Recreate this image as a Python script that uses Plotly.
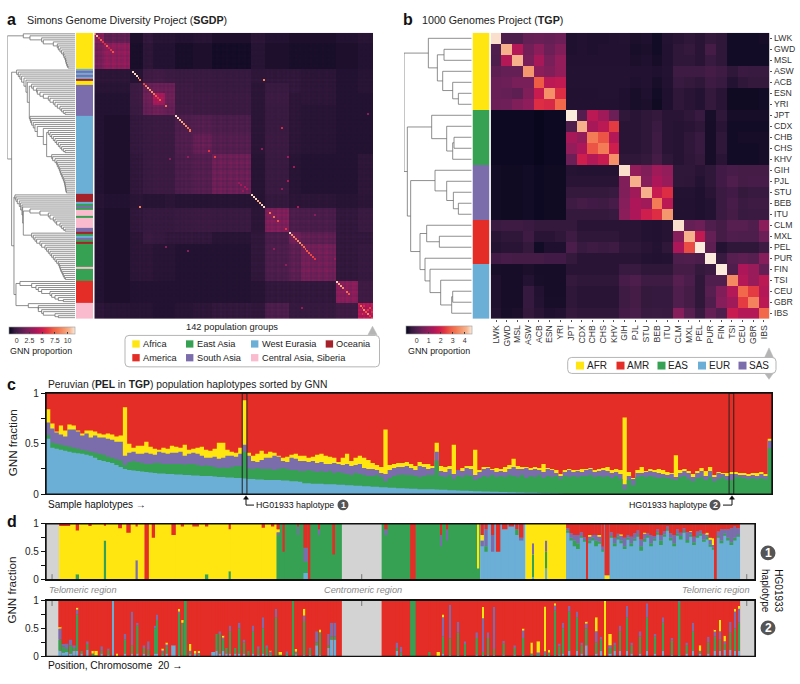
import plotly.graph_objects as go

W, H = 800, 684
FONT = "Liberation Sans"
C_AFR, C_AMR, C_EAS, C_EUR, C_SAS = "#FFE611", "#E42D26", "#37A153", "#6BAED6", "#7B6DAC"
C_OCE, C_CAS, C_NA = "#A5222B", "#FBBBCE", "#D3D3D3"
ROCKET = [[0, "#03051A"], [.083, "#35193E"], [.167, "#511E4E"], [.25, "#701F57"], [.333, "#8E1D5B"],
          [.417, "#AD1759"], [.5, "#CB1B4F"], [.583, "#E13342"], [.667, "#EE5A45"], [.75, "#F37651"],
          [.833, "#F5966D"], [.917, "#F6B48F"], [1, "#FAEBDD"]]

# ---------- panel b data ----------
tgp_labels = ["LWK","GWD","MSL","ASW","ACB","ESN","YRI","JPT","CDX","CHB","CHS","KHV","GIH","PJL","STU","BEB","ITU",
              "CLM","MXL","PEL","PUR","FIN","TSI","CEU","GBR","IBS"]
tgp_groups = [0]*7 + [2]*5 + [4]*5 + [1]*4 + [3]*5
r_LWK=[4.5,-.05,-.05,.3,.35,.3,.4,-.65,-.62,-.65,-.65,-.62,-.6,-.68,-.65,-.75,-.6,-.55,-.5,-.55,-.45,-.5,-.75,-.75,-.75,-.72]
r_GWD=[0,4.1,1.5,.5,.9,.4,.7,-.65,-.62,-.65,-.62,-.62,-.62,-.7,-.68,-.75,-.62,-.5,-.45,-.55,-.2,-.5,-.75,-.75,-.75,-.75]
r_MSL=[-.05,1.5,4.1,.6,1.3,.6,1.0,-.62,-.62,-.62,-.62,-.62,-.62,-.68,-.65,-.72,-.62,-.5,-.5,-.55,-.4,-.5,-.75,-.75,-.75,-.75]
r_ASW=[.2,.3,.3,3.7,.9,.7,1.0,-.6,-.6,-.6,-.6,-.6,-.6,-.62,-.62,-.65,-.6,-.3,-.3,-.3,-.2,-.3,-.5,-.35,-.4,-.4]
r_ACB=[.35,.4,.6,.6,2.8,1.6,1.7,-.6,-.6,-.6,-.6,-.6,-.6,-.65,-.62,-.7,-.62,-.4,-.45,-.5,-.3,-.4,-.6,-.5,-.45,-.45]
r_ESN=[.35,.3,.2,.7,1.8,3.6,2.2,-.62,-.62,-.62,-.6,-.6,-.65,-.7,-.65,-.75,-.65,-.5,-.55,-.6,-.45,-.55,-.78,-.78,-.78,-.75]
r_YRI=[.4,.45,.7,.95,2.2,2.1,3.0,-.62,-.62,-.62,-.62,-.62,-.65,-.7,-.68,-.78,-.65,-.5,-.55,-.6,-.45,-.55,-.78,-.78,-.78,-.75]
r_JPT=[-.8,-.8,-.8,-.8,-.85,-.8,-.8,4.6,.05,1.6,1.2,.4,-.5,-.55,-.5,-.45,-.55,-.55,-.5,-.4,-.7,-.5,-.72,-.72,-.72,-.72]
r_CDX=[-.8,-.8,-.8,-.8,-.85,-.8,-.8,.0,4.1,1.3,1.6,2.4,-.55,-.55,-.5,-.35,-.55,-.58,-.55,-.5,-.72,-.55,-.75,-.75,-.75,-.75]
r_CHB=[-.8,-.8,-.8,-.8,-.85,-.8,-.8,1.3,1.0,3.3,2.7,1.5,-.55,-.55,-.5,-.3,-.55,-.58,-.5,-.4,-.72,-.5,-.75,-.72,-.72,-.72]
r_CHS=[-.8,-.8,-.8,-.8,-.85,-.8,-.8,1.0,1.4,2.7,3.3,1.9,-.55,-.55,-.5,-.3,-.55,-.58,-.5,-.4,-.72,-.5,-.75,-.75,-.75,-.72]
r_KHV=[-.8,-.8,-.8,-.8,-.85,-.8,-.8,.4,1.9,1.5,1.8,3.6,-.5,-.5,-.45,-.2,-.5,-.58,-.52,-.45,-.72,-.55,-.75,-.75,-.75,-.72]
r_GIH=[-.75,-.78,-.78,-.75,-.8,-.78,-.78,-.58,-.6,-.6,-.6,-.6,4.5,1.0,.7,1.2,1.0,-.5,-.5,-.55,-.5,-.25,-.15,-.2,-.2,-.2]
r_PJL=[-.75,-.78,-.78,-.75,-.8,-.78,-.78,-.55,-.55,-.55,-.55,-.55,.7,4.1,.8,1.4,1.1,-.5,-.52,-.6,-.5,-.25,.0,-.2,-.15,-.15]
r_STU=[-.75,-.78,-.78,-.75,-.8,-.78,-.78,-.45,-.45,-.45,-.45,-.4,.7,1.2,4.1,1.8,2.2,-.6,-.6,-.65,-.55,-.35,-.25,-.45,-.4,-.4]
r_BEB=[-.75,-.78,-.78,-.75,-.8,-.78,-.78,-.3,-.2,-.25,-.3,-.15,.8,1.4,1.2,3.3,1.6,-.62,-.62,-.65,-.6,-.35,-.15,-.35,-.3,-.3]
r_ITU=[-.75,-.78,-.78,-.75,-.8,-.78,-.78,-.45,-.45,-.45,-.45,-.4,.9,1.4,1.9,2.2,3.7,-.62,-.62,-.65,-.6,-.35,-.2,-.4,-.35,-.35]
r_CLM=[-.35,-.3,-.3,-.35,-.45,-.45,-.45,-.45,-.55,-.55,-.55,-.55,-.55,-.55,-.6,-.62,-.58,4.5,.3,.4,.0,-.2,.1,.1,.0,.9]
r_MXL=[-.55,-.5,-.5,-.3,-.55,-.55,-.5,-.3,-.5,-.5,-.5,-.5,-.55,-.55,-.6,-.62,-.58,.8,4.1,1.7,.3,-.2,.0,-.05,-.05,.4]
r_PEL=[-.6,-.55,-.55,-.45,-.75,-.65,-.65,-.1,-.4,-.3,-.35,-.3,-.5,-.5,-.55,-.6,-.5,1.4,2.6,4.6,.2,-.6,-.5,-.5,-.5,-.3]
r_PUR=[-.25,-.15,-.2,-.2,-.2,-.25,-.25,-.45,-.55,-.55,-.55,-.55,-.55,-.55,-.6,-.62,-.6,-.05,.0,-.1,4.6,-.4,.1,.2,.1,.8]
r_FIN=[-.7,-.72,-.72,-.68,-.72,-.72,-.72,-.55,-.55,-.55,-.55,-.55,-.4,-.4,-.5,-.5,-.5,-.2,-.2,-.45,-.35,4.6,0,1.4,1.1,.3]
r_TSI=[-.65,-.72,-.72,-.6,-.7,-.72,-.72,-.45,-.5,-.5,-.5,-.5,-.15,-.05,-.3,-.3,-.3,.1,-.1,-.5,.0,.0,3.5,1.5,1.1,1.6]
r_CEU=[-.65,-.72,-.72,-.42,-.62,-.72,-.72,-.5,-.55,-.55,-.55,-.55,-.3,-.2,-.45,-.42,-.42,.0,-.2,-.5,.1,.7,1.5,3.0,2.4,1.5]
r_GBR=[-.65,-.72,-.72,-.42,-.6,-.7,-.7,-.5,-.55,-.55,-.55,-.55,-.3,-.2,-.45,-.42,-.42,.0,-.2,-.5,.0,.8,1.2,2.4,3.4,1.6]
r_IBS=[-.6,-.7,-.68,-.45,-.55,-.65,-.62,-.45,-.5,-.5,-.5,-.5,-.22,-.12,-.4,-.38,-.4,.8,.1,-.4,.3,.0,1.8,1.5,1.5,3.0]
tgp_matrix = [r_LWK,r_GWD,r_MSL,r_ASW,r_ACB,r_ESN,r_YRI,r_JPT,r_CDX,r_CHB,r_CHS,r_KHV,r_GIH,r_PJL,r_STU,r_BEB,r_ITU,
              r_CLM,r_MXL,r_PEL,r_PUR,r_FIN,r_TSI,r_CEU,r_GBR,r_IBS]

# merge heights of the TGP tree; a leaf is None
tgp_tree = (12,
  (85, None, (112, (132, None, None), (128, None, (158, None, (175, None, None))))),
  (22,
    (95, None, (140, None, (158, (162, None, None), None))),
    (32,
      (105, None, (140, None, (160, None, (175, None, None)))),
      (60,
        (80, None, (118, None, None)),
        (75, None, (90, None, (122, None, (155, (158, None, None), None))))))))

# ---------- panel a data ----------
sgdp_strip_sizes = [18,1,1,1,1,1,1,2,15,39,4,1,1,1,1,3,1,5,2,1,1,1,1,1,1,11,1,6,11,8]
sgdp_strip_group = [0,3,4,3,4,3,5,0,4,3,5,3,2,4,2,6,2,6,4,5,2,3,4,2,5,2,6,2,1,6]
block_edges = [0,5,18,25,30,36,41,50,60,80,87,99,105,123,134,142]
b0 =[2.2,1.0,-1,-.6,-.8,-.8,-.9,-.8,-1,-.7,-.9,-1,-1,-.9,-.8]
b1 =[1.8,2.6,-1.1,-.7,-.9,-.9,-1.1,-1,-1.2,-.8,-1,-1.1,-1.1,-1,-.9]
b2 =[-.7,-.7,-.8,-.1,0,-.2,-.3,-.3,-.4,-.6,-.6,-.6,-.7,-.9,-.8]
b3 =[-.8,-.8,-.2,1.2,1.3,1.3,-.2,-.3,-.4,-.7,-.4,-.6,-.7,-.9,-.8]
b4 =[-.9,-.9,-.2,1.4,3.4,1.4,-.2,-.2,-.3,-.7,-.3,-.7,-.7,-.9,-.9]
b5 =[-.9,-.9,-.3,1.2,1.5,1.2,-.1,-.2,-.3,-.7,-.4,-.7,-.8,-.9,-.9]
b6 =[-.9,-1,-.5,-.4,-.3,-.3,.4,.6,.3,-.7,-.4,-.7,-.8,-.9,-.9]
b7 =[-.9,-1,-.5,-.4,-.3,-.3,.5,1.2,.6,-.7,-.3,-.7,-.8,-.9,-.9]
b8 =[-.9,-1,-.6,-.4,-.3,-.3,.3,.6,1.3,-.8,-.4,-.8,-.9,-.9,-.7]
b9 =[-.8,-.9,-.7,-.8,-.8,-.7,-.8,-.8,-.8,-.8,-.5,-.7,-.7,-.8,-.7]
b10=[-.9,-1,-.6,-.5,-.5,-.5,-.4,-.3,-.4,-.7,2.0,.3,.2,-.6,-.4]
b11=[-.9,-1,-.7,-.4,-.5,-.6,-.6,-.6,-.8,-.6,.2,1.5,.9,-.6,-.6]
b12=[-.9,-1,-.7,-.7,-.8,-.8,-.9,-.9,-.9,-.6,.3,.8,1.5,-.6,-.5]
b13=[-.9,-1,-.9,-.9,-.9,-.9,-.9,-.9,-.9,-.8,-.6,-.6,-.6,2.4,-.2]
b14=[-.7,-.8,-.8,-.8,-.9,-.9,-.8,-.7,-.6,-.6,.3,-.5,-.5,-.2,3.6]
block_values = [b0,b1,b2,b3,b4,b5,b6,b7,b8,b9,b10,b11,b12,b13,b14]
row_strength = [1.1,.9,1.05,.95,1.15,.95,1.1,1.0,.9,1.15,1.05,.9,1.1,.95,1.0,1.15,.9,1.05,
 .8,.9,.85,.95,.8,1.2,.85, 1.1,.9,1.05,1.15,.95,1.1,1.0,1.15,.95,1.05,.9,1.1,.9,1.05,.95,1.1,
 .95,1.05,.85,1.1,.9,1.15,.95,1.0,1.2,.9, 1.05,.95,1.1,.85,1.15,1.0,.9,1.1,.95,1.05,
 1.15,.9,1.05,1.2,.95,1.1,.85,1.05,1.15,.95,1.0,1.2,.9,1.1,1.05,.9,1.2,1.0,1.1,.95,
 .85,.95,.85,.9,.85,.95,.9, 1.1,.95,1.15,1.0,.9,1.2,1.05,.9,1.1,.95,1.15,.9,
 1.05,1.2,.95,1.1,.9,1.05, 1.15,.95,1.05,1.2,.9,1.1,1.0,.95,1.15,1.05,.9,1.1,1.2,.95,1.05,.9,1.1,1.0,
 1.1,.95,1.05,.9,1.15,1.0,.9,1.1,1.05,.95,1.1, 1.05,.9,1.15,1.0,1.1,.9,1.2,1.0]
sgdp_diag_idx = [0,1,2,3,4,5,6,7,8,9,19,20,21,22,23,25,26,27,28,29,30,31,32,33,36,41,42,43,44,45,46,47,48,58,61,
                 80,81,82,83,84,85,86,89,91,93,97,99,100,101,102,103,104,105,106,107,108,109,110,111,112,
                 123,124,125,126,127,128,129,134,135,136,137,138,139,140,141]
sgdp_diag_val = [8,10.5,6,7.5,6,5.5,7.5,5,6,7,11,11,11,10,8,6.5,8,10,9,9,8,7,6,7,8,11,11,10,10,9,9,8,8,6,6.5,
                 11,11,11,10,10,11,11,8,8,7,6,11,9,9,8,9,9,8,8,7,7,7,6.5,6.5,6,
                 11,10,10,9,9,8,7,5,8,7,9,7,9,6,6]
hot_row = [23,86,47,73,86,57,61,66,107,108,112,77,61,62,127,136,106,115,40,90,75,76,77,78,74,136,137,139,138,135]
hot_col = [86,23,95,98,103,85,98,101,91,47,122,95,47,38,127,105,36,97,139,112,74,76,77,75,73,140,139,136,141,137]
hot_val = [8.5,8.5,5.5,4,4,3,3.5,3.5,3,2.5,3,3,3,2.5,3,3,2.5,3,2.5,2.5,3.5,3.5,3.5,3,3,6.5,6,6,6,5.5]

# tree ladders of the SGDP dendrogram: merge heights, outermost first
lad_afr = [70,90,125,130,160,172,175,180,185,190,192,195,197,198,200,202,204]
lad_single = [50,55,60,65,72,78,82]
lad_sas = [95,100,110,112,120,130,145,150,160,165,172,180,185,190,195]
lad_eur = [90,92,95,100,105,112,130]
lad_e1 = [145,150,155,160,165,170,175,180,185,190,195]
lad_e2 = [155,158,165,170,172,175,178,180,182,185,187,190,192,194,195,196,197,198,199]
lad_d1 = [45,48,52,58,62,66,68]
lad_p1 = [90,120,145,150,160,165,170,180,185,190,195]
lad_p2 = [95,100,105,110,120,125,135,140,145,150,155,160,165,170,175,178,180,182,185,188,190,193,196]
lad_red = [60,95,108,115,125,150,155,165,175,190]
lad_pink = [85,115,115,125,130,165,175]

# ---------- panel c data: cumulative tops ----------
top_eur = [.55,.46,.45,.44,.43,.42,.41,.405,.40,.39, .38,.36,.34,.33,.32,.31,.29,.27,.25,.24,
 .235,.23,.225,.22,.215,.21,.205,.205,.20,.20, .195,.195,.19,.19,.185,.185,.18,.18,.18,.175,
 .17,.17,.165,.165,.16,.16,.155,.15,.15,.145, .145,.14,.14,.14,.14,.135,.135,.13,.13,.125,
 .11,.11,.105,.105,.105,.10,.10,.10,.095,.095, .09,.09,.085,.085,.08,.08,.075,.075,.07,.07,
 .065,.065,.06,.06,.058,.055,.055,.05,.05,.05, .05,.048,.045,.045,.04,.04,.038,.035,.035,.032,
 .03,.03,.028,.028,.025,.025,.022,.022,.02,.02, .018,.018,.016,.015,.014,.012,.01,.01,.008,.007,
 .005,.004,.002,0,0,0,0,0,0,0, 0,0,0,0,0,0,0,0,0,0, 0,0,0,0,0,0,0,0,0,0, 0,0,0,0,0,0,0,0,0,0, 0,0,0,0,0,0,0,0,0,0]
top_eas = [.585,.51,.50,.49,.48,.47,.46,.45,.44,.43, .42,.41,.40,.39,.37,.36,.345,.335,.29,.32,
 .33,.32,.31,.30,.30,.31,.31,.30,.30,.30, .30,.30,.295,.30,.30,.29,.28,.285,.28,.27,
 .26,.265,.26,.27,.28,.28,.42,.255,.25,.26, .25,.25,.25,.24,.25,.26,.25,.24,.24,.23,
 .23,.24,.23,.22,.23,.22,.23,.21,.22,.21, .20,.19,.21,.20,.19,.18,.18,.19,.17,.13,
 .16,.18,.19,.195,.19,.19,.18,.17,.18,.19, .19,.335,.18,.17,.19,.15,.18,.17,.19,.18,
 .14,.16,.18,.17,.19,.17,.18,.17,.19,.18, .17,.19,.16,.18,.17,.19,.16,.18,.17,.18,
 .15,.18,.17,.18,.17,.18,.18,.19,.17,.18, .17,.18,.16,.18,.15,.05,.14,.09,.17,.18,
 .17,.18,.17,.16,.17,.16,.15,.14,.17,.18, .15,.13,.16,.17,.14,.17,.13,.15,.17,.14,
 .14,.17,.17,.16,.15,.16,.15,.16,.15,.455]
top_sas = [.71,.65,.61,.59,.57,.64,.64,.62,.58,.60, .56,.58,.56,.56,.55,.54,.52,.52,.38,.41,
 .42,.40,.40,.41,.40,.39,.42,.41,.40,.41, .41,.42,.38,.40,.41,.40,.38,.36,.36,.37,
 .35,.36,.38,.38,.37,.40,.49,.38,.33,.32, .34,.36,.36,.38,.37,.33,.32,.36,.35,.33,
 .33,.32,.33,.31,.32,.30,.30,.31,.30,.29, .30,.28,.29,.30,.26,.25,.25,.24,.21,.20,
 .24,.26,.27,.27,.28,.26,.24,.28,.27,.25, .26,.42,.23,.22,.25,.20,.24,.23,.26,.25,
 .19,.22,.25,.26,.24,.22,.23,.22,.25,.27, .25,.25,.26,.24,.25,.24,.22,.25,.24,.21,
 .18,.22,.24,.22,.23,.22,.24,.25,.22,.23, .24,.23,.21,.22,.20,.10,.18,.15,.21,.21,
 .22,.23,.22,.21,.20,.19,.20,.17,.21,.23, .21,.17,.21,.23,.18,.23,.17,.21,.20,.18,
 .20,.20,.19,.19,.18,.19,.18,.20,.18,.53]
top_afr = [.84,.70,.62,.68,.63,.69,.68,.63,.60,.63, .63,.62,.60,.59,.60,.59,.57,.58,.86,.50,
 .46,.48,.48,.52,.47,.45,.44,.46,.45,.48, .47,.46,.49,.44,.45,.46,.47,.44,.43,.45,
 .51,.51,.44,.42,.41,.46,.93,.41,.38,.40, .43,.40,.42,.41,.38,.36,.37,.39,.40,.38,
 .38,.36,.37,.39,.40,.38,.37,.36,.32,.36, .40,.33,.36,.38,.36,.34,.31,.29,.27,.64,
 .29,.30,.31,.31,.32,.30,.28,.32,.30,.30, .28,.51,.28,.27,.28,.49,.24,.26,.28,.28,
 .44,.24,.27,.27,.25,.26,.25,.27,.29,.35, .28,.27,.27,.26,.27,.26,.30,.26,.25,.24,
 .20,.24,.25,.24,.24,.25,.25,.26,.24,.25, .26,.27,.24,.25,.24,.76,.22,.16,.24,.27,
 .23,.25,.24,.25,.24,.22,.21,.385,.24,.25, .23,.20,.23,.26,.23,.27,.19,.22,.21,.21,
 .22,.22,.21,.21,.20,.21,.21,.22,.20,.55]
marked_haplotypes = [46, 160]

# ---------- panel d data (position in Mb) ----------
gap_edges = [(0,1.2),(26.9,30.5),(63.1,64.45)]
t1_block_start = [1.2,21.0,30.5,39.5,43.6,47.3]
t1_block_end   = [21.0,26.9,39.5,43.6,47.3,63.1]
t1_block_color = [C_AFR,C_EAS,C_EAS,C_EUR,C_AFR,C_EUR]
t2_block_start = [1.2,30.5]
t2_block_end   = [26.9,63.1]
region_ticks = [.55,28.7,63.7]

t1_pos=[1.7,2.85,4.0,5.36,6.73,7.5,8.24,9.15,9.76,11.6,12.4,13.6,14.6,16.7,19.75,20.6,
 21.1,21.6,22.9,23.6,23.95,24.8,26.15,30.9,33.35,35.9,36.5,39.3,
 39.65,40.0,40.6,41.1,41.7,42.3,42.8,43.2,44.3,45.5,
 47.45,47.75,48.05,48.35,48.65,48.95,49.2,49.4,49.7,50.0,50.3,50.6,51.0,51.4,51.7,52.0,52.3,52.6,52.9,53.2,53.5,53.8,
 54.1,54.4,54.7,55.0,55.3,55.6,55.9,56.2,56.5,56.8,57.1,57.4,57.7,58.0,58.3,58.6,58.9,59.2,59.5,59.8,
 60.1,60.4,60.65,60.85,61.1,61.4,61.7,62.0,62.3,62.6,62.9]
t1_w  =[1.0,.3,.3,.2,.35,.4,.2,.4,.3,.4,.3,.6,.3,.2,.3,.3,
 .3,.2,.15,.4,.15,.1,.25,.3,.5,.1,.1,.15,
 .3,.3,.3,.4,.5,.5,.3,.4,.1,.1,
 .34,.34,.34,.34,.34,.28,.14,.34,.34,.34,.34,.24,.45,.34,.34,.34,.34,.34,.34,.34,.34,.34,
 .34,.34,.34,.34,.34,.34,.34,.34,.34,.34,.34,.34,.34,.34,.34,.34,.34,.34,.34,.34,
 .34,.34,.24,.25,.34,.34,.34,.34,.34,.34,.35]
t1_eur=[0,0,0,0,0,0,0,0,0,0,0,0,0,0,0,0,
 0,0,0,.12,0,0,0,0,0,0,0,0,
 .6,.5,.5,.5,.9,.95,.8,.7,.05,.2,
 .85,.7,.6,.55,.75,.68,0,.65,.7,.6,.65,.5,0,.75,.6,.72,.65,.55,.72,.6,.7,.78,
 .52,.68,.75,.6,.7,.82,.62,.78,.88,.7,.6,.8,.72,.85,.66,.78,.62,.75,.8,.68,
 .72,.6,.55,0,.75,.65,.8,.7,.62,.7,.78]
t1_eas=[0,.1,0,.7,0,0,0,0,0,0,0,0,.1,.15,0,0,
 .8,.5,.8,.2,0,.8,.45,.8,0,.6,.7,.2,
 0,.1,0,0,0,0,.1,0,.4,.3,
 .03,.05,.1,.1,.03,.03,0,.05,.05,.1,.03,.03,0,.03,.05,.05,.05,.05,.03,.05,.03,.02,
 .08,.05,.03,.05,.03,.03,.08,.03,.02,.05,.05,.03,.06,.02,.05,.03,.05,.03,.03,.04,
 .05,.03,.02,0,.03,.05,.03,.05,.05,.05,.02]
t1_sas=[0,0,0,0,0,0,.35,0,0,0,0,0,0,0,0,0,
 .05,0,.15,.25,0,.1,0,.1,0,.2,.2,0,
 .1,.3,.3,0,0,0,0,.05,.2,.2,
 .04,.08,.1,.15,.07,.05,0,.08,.05,.1,.1,.06,0,.07,.1,.05,.1,.15,.05,.12,.1,.08,
 .12,.1,.05,.15,.05,.05,.1,.06,.05,.08,.15,.07,.06,.05,.14,.05,.1,.08,.05,.1,
 .05,.1,.05,0,.08,.2,.07,.15,.25,.2,.12]
t1_afr=[.96,.78,.96,.28,.92,.84,.6,0,.75,.8,.95,.95,.85,.75,.93,.95,
 .05,0,0,0,0,0,0,0,0,.0,0,.8,
 .1,0,0,0,0,0,0,0,.35,.3,
 0,0,0,0,0,0,0,.02,0,0,.02,0,.08,0,0,0,.01,0,0,0,0,0,
 0,.01,0,0,0,0,0,0,0,0,0,0,0,0,0,.01,0,0,0,0,
 .02,.02,.12,0,0,0,0,0,0,0,0]

t2_pos=[1.27,1.58,1.88,2.24,2.55,2.85,3.24,3.76,4.24,4.55,5.06,5.67,6.12,6.49,7.18,7.79,8.3,8.9,9.3,9.9,
 10.06,10.6,10.97,11.58,12.1,12.4,12.67,13.1,13.55,13.9,15.2,15.5,15.8,16.1,16.4,16.7,17.2,17.6,18.0,18.4,
 18.85,19.3,19.76,20.06,20.4,20.9,21.3,21.9,22.5,22.72,23.5,24.0,24.6,24.9,25.67,25.97,26.27,
 31.9,32.27,33.35,34.85,35.66,36.1,36.7,37.5,38.1,39.15,39.75,40.2,40.7,41.6,42.6,43.4,44.15,44.75,45.36,45.7,
 46.27,46.66,47.0,47.6,48.24,48.7,49.15,50.06,50.45,50.8,51.27,51.7,52.2,52.8,53.24,54.0,54.6,55.36,56.1,56.9,
 57.6,58.24,58.85,59.45,60.2,60.8,61.3,61.7,62.2,62.6,63.0]
t2_w  =[.3,.3,.3,.3,.3,.15,.2,.2,.2,.3,.2,.2,.12,.1,.2,.1,.2,.2,.2,.12,
 .12,.2,.2,.4,.15,.2,.25,.2,.2,.2,.35,.2,.2,.2,.2,.12,.2,.12,.2,.2,
 .12,.2,.12,.2,.2,.12,.3,.2,.1,.2,.12,.2,.25,.1,.2,.3,.2,
 .2,.2,.5,.2,.3,.1,.1,.1,.1,.2,.1,.15,.1,.2,.2,.15,.2,.3,.1,.1,
 .1,.2,.12,.12,.12,.2,.15,.15,.2,.1,.3,.2,.12,.1,.2,.2,.1,.2,.1,.2,
 .12,.2,.1,.2,.2,.2,.1,.2,.2,.1,.15]
t2_eur=[.1,.07,.08,.05,.1,.1,.05,.12,0,0,.05,.03,1,0,.05,.05,.05,.05,.02,.05,
 .05,.02,.05,.2,.02,0,0,.05,.05,.02,.08,.1,.05,.1,.05,.05,.05,.05,.05,0,
 .05,.03,.05,.02,.02,0,0,.02,0,.05,.03,.03,.2,.03,.15,.3,.3,
 .1,.02,0,0,0,.05,.02,.02,.02,.03,.03,.03,.03,.03,.03,.03,.02,.02,.02,.02,
 .02,.03,.05,.1,.1,.05,.2,.05,.1,0,.05,.1,.1,.1,.05,.05,.1,.05,.1,.03,
 .02,.05,.1,.05,.05,.1,.1,.12,.12,.1,.1]
t2_eas=[.2,.1,.05,.15,.05,.65,.05,.1,.05,.02,.05,.08,0,0,.25,.15,.5,.1,.1,.45,
 .6,.05,.12,0,.75,.6,1,.03,0,.02,0,.3,.35,.2,.1,.4,.1,.45,.2,.1,
 .4,.1,.45,.15,.05,.7,.03,.05,1,.03,.6,.1,.05,.4,.05,.05,.05,
 .05,.05,1,.08,0,.3,.3,.4,.2,.3,.05,.3,.1,.2,.12,.3,.03,.03,.05,.05,
 .8,.15,.45,.7,.6,.15,.3,.2,.2,0,.1,.1,.35,.6,.15,.3,.6,.3,.5,.25,
 .95,.15,.35,.05,.2,.25,.2,.1,.3,.4,.5]
t2_sas=[.2,.05,.1,.1,.05,.1,0,.05,0,0,.08,.03,0,0,.1,.6,.05,.05,.15,.05,
 .1,.05,.05,0,.03,0,0,.02,0,.02,0,0,.05,.05,0,.1,0,.1,.05,0,
 .1,.05,.2,.03,.02,.15,0,.02,0,.02,.1,.03,.2,0,.2,.25,.25,
 .1,.1,0,0,0,.35,.6,.2,.05,.1,.6,.1,.75,.05,.05,.15,0,.02,.02,0,
 .1,.05,.1,.1,.1,.05,.1,.2,.05,0,.05,.05,.1,.2,.05,.1,.25,.05,.1,.05,
 .03,.05,.15,0,.1,.1,.15,.05,.2,.3,.25]
t2_afr=[.02,0,0,0,0,.02,0,0,.05,.08,0,0,0,.05,0,0,0,0,0,0,
 0,.02,.03,0,.05,.05,0,.12,.05,.04,0,0,0,.02,0,0,0,0,0,0,
 0,0,0,0,.01,0,.05,0,0,.03,.12,0,0,.05,0,0,0,
 0,0,0,0,.08,.05,0,0,0,0,.2,0,0,0,0,.02,.2,.2,.8,.05,
 .03,0,0,0,0,0,.02,.25,0,1,.2,0,0,0,0,0,0,0,0,0,
 0,0,0,.1,0,.02,.2,.1,0,.05,.05]

# ---------- helpers ----------
fig = go.Figure()
layout_axes = {}

def pdom(x0, x1, y0, y1):
    return [x0/W, x1/W], [1-y1/H, 1-y0/H]

def add_axes(n, x0, x1, y0, y1, xkw=None, ykw=None):
    dx, dy = pdom(x0, x1, y0, y1)
    base = dict(visible=False, showgrid=False, zeroline=False, fixedrange=True)
    xa = dict(base, domain=dx, anchor=f"y{n}"); xa.update(xkw or {})
    ya = dict(base, domain=dy, anchor=f"x{n}"); ya.update(ykw or {})
    layout_axes[f"xaxis{n}"] = xa
    layout_axes[f"yaxis{n}"] = ya

def ladder(heights, tail=None):
    node = tail
    for i, h in enumerate(reversed(heights)):
        if node is None and i == 0:
            node = (h, None, None)
        else:
            node = (h, None, node)
    return node

def tree_lines(tree, right):
    xs, ys, counter = [], [], [0]
    def walk(node):
        if node is None:
            y = counter[0] + .5
            counter[0] += 1
            return right, y
        h, a, b = node
        xa, ya = walk(a)
        xb, yb = walk(b)
        xs.extend([xa, h, h, xb, None])
        ys.extend([ya, ya, yb, yb, None])
        return h, (ya + yb) / 2
    walk(tree)
    return xs, ys

def add_strip(n, sizes, groups):
    edges = [0]
    for s in sizes:
        edges.append(edges[-1] + s)
    fig.add_trace(go.Heatmap(x=[0, 1], y=edges, z=[[g] for g in groups], zmin=0, zmax=6, colorscale=[
        p for i, c in enumerate([C_AFR, C_AMR, C_EAS, C_EUR, C_SAS, C_OCE, C_CAS])
        for p in ([i/7, c], [(i+1)/7, c])], showscale=False, xaxis=f"x{n}", yaxis=f"y{n}", hoverinfo="skip"))

def add_tree(n, tree, right):
    xs, ys = tree_lines(tree, right)
    fig.add_trace(go.Scatter(x=xs, y=ys, mode="lines", line=dict(color="#6A6A6A", width=.75),
                             xaxis=f"x{n}", yaxis=f"y{n}", hoverinfo="skip", showlegend=False))

def add_stack(n, x, width, series):
    base = [0.0]*len(x)
    for vals, color in series:
        keep = [i for i, v in enumerate(vals) if v > 0]
        fig.add_trace(go.Bar(x=[x[i] for i in keep], y=[vals[i] for i in keep], base=[base[i] for i in keep],
                             width=[width[i] for i in keep], marker=dict(color=color, line=dict(width=0)),
                             xaxis=f"x{n}", yaxis=f"y{n}", hoverinfo="skip", showlegend=False))
        base = [b + v for b, v in zip(base, vals)]

def add_blocks(n, starts, ends, colors):
    fig.add_trace(go.Bar(x=[(a+b)/2 for a, b in zip(starts, ends)], y=[1]*len(starts), base=[0]*len(starts),
                         width=[b-a for a, b in zip(starts, ends)], marker=dict(color=colors, line=dict(width=0)),
                         xaxis=f"x{n}", yaxis=f"y{n}", hoverinfo="skip", showlegend=False))

def add_track(n, blocks, pos, w, eur, eas, sas, afr):
    gs = [a for a, b in gap_edges]; ge = [b for a, b in gap_edges]
    add_blocks(n, gs, ge, [C_NA]*len(gs))
    add_blocks(n, *blocks)
    amr = [max(0, 1-a-b-c-d) for a, b, c, d in zip(eur, eas, sas, afr)]
    add_stack(n, pos, w, [(eur, C_EUR), (eas, C_EAS), (sas, C_SAS), (afr, C_AFR), (amr, C_AMR)])
    ys = (-.1, .1) if n == 8 else (.9, 1.08)
    xs, yy = [], []
    for t in region_ticks:
        xs += [t, t, None]; yy += [ys[0], ys[1], None]
    fig.add_trace(go.Scatter(x=xs, y=yy, mode="lines", line=dict(color="#777777", width=1), cliponaxis=False,
                             xaxis=f"x{n}", yaxis=f"y{n}", hoverinfo="skip", showlegend=False))

def add_steps(n, idx, tops, colors):
    # filled step outlines, painted back to front so neighbouring haplotypes leave no seams
    edges = [i - .5 for i in idx] + [idx[-1] + .5]
    for vals, color in zip(tops, colors):
        fig.add_trace(go.Scatter(x=edges, y=list(vals) + [vals[-1]], mode="lines", line=dict(shape="hv", width=0, color=color),
                                 fill="tozeroy", fillcolor=color, xaxis=f"x{n}", yaxis=f"y{n}", hoverinfo="skip", showlegend=False))

anns, shapes = [], []
def text(x, y, s, size=9, color="#222222", anchor="left", angle=0, **kw):
    anns.append(dict(x=x/W, y=1-y/H, xref="paper", yref="paper", text=s, showarrow=False, xanchor=anchor,
                     yanchor="middle", textangle=angle, borderpad=0, borderwidth=0, font=dict(family=FONT, size=size, color=color), **kw))
def rect(x0, y0, x1, y1, color):
    shapes.append(dict(type="rect", xref="paper", yref="paper", x0=x0/W, x1=x1/W, y0=1-y0/H, y1=1-y1/H,
                       fillcolor=color, line=dict(width=0)))
def path(points, fill=None, color="#000000", width=1, close=False):
    d = "M" + " L".join(f"{x/W:.5f},{1-y/H:.5f}" for x, y in points) + (" Z" if close else "")
    shapes.append(dict(type="path", xref="paper", yref="paper", path=d, fillcolor=fill or "rgba(0,0,0,0)",
                       line=dict(color=color, width=width)))
def circle(x, y, r, label):
    shapes.append(dict(type="circle", xref="paper", yref="paper", x0=(x-r)/W, x1=(x+r)/W, y0=1-(y+r)/H, y1=1-(y-r)/H,
                       fillcolor="#555555", line=dict(width=0)))
    text(x, y, f"<b>{label}</b>", size=r*1.6, color="white", anchor="center")
def frame_box(n):
    shapes.append(dict(type="rect", xref=f"x{n} domain", yref=f"y{n} domain", x0=0, x1=1, y0=0, y1=1,
                       line=dict(color="#111111", width=1.4), fillcolor="rgba(0,0,0,0)"))

# ---------- panel a ----------
tree_a = (22, ladder(lad_afr),
          (35, ladder(lad_single, (88, ladder(lad_sas), ladder(lad_eur, (140, ladder(lad_e1), ladder(lad_e2))))),
               (42, ladder(lad_d1, (70, ladder(lad_p1), ladder(lad_p2))),
                    (48, ladder(lad_red), ladder(lad_pink)))))
add_axes(1, 7.3, 75, 27.3, 318.3, dict(range=[22, 225]), dict(range=[142, 0]))
add_tree(1, tree_a, 225)
add_axes(2, 76, 93, 27.3, 318.3, dict(range=[0, 1]), dict(range=[142, 0]))
add_strip(2, sgdp_strip_sizes, sgdp_strip_group)

seg = []
for s, (a, b) in enumerate(zip(block_edges[:-1], block_edges[1:])):
    seg += [s]*(b-a)
sgdp_z = [[-1 + (block_values[seg[i]][seg[j]] + 1) * (.3 + .7 * row_strength[i] * row_strength[j]) for j in range(142)] for i in range(142)]
for i, v in zip(sgdp_diag_idx, sgdp_diag_val):
    sgdp_z[i][i] = v
for r, c, v in zip(hot_row, hot_col, hot_val):
    sgdp_z[r][c] = v
add_axes(3, 94.3, 373, 27.3, 318.3, dict(range=[-.5, 141.5]), dict(range=[141.5, -.5]))
fig.add_trace(go.Heatmap(z=sgdp_z, zmin=-1.58, zmax=11.4, colorscale=ROCKET, xaxis="x3", yaxis="y3", hoverinfo="skip",
    colorbar=dict(orientation="h", x=8.7/W, xanchor="left", y=1-326.3/H, yanchor="top", thickness=7.4, len=66.3, lenmode="pixels",
                  xpad=0, ypad=0, tickvals=[0,2.5,5,7.5,10], ticktext=["0","2.5","5","7.5","10"], ticks="inside", ticklen=2,
                  tickcolor="#333", tickfont=dict(family=FONT, size=7, color="#333"), outlinecolor="#999", outlinewidth=.6)))

# ---------- panel b ----------
add_axes(4, 404, 471.7, 27.3, 318.3, dict(range=[12, 215]), dict(range=[26, 0]))
add_tree(4, tgp_tree, 215)
add_axes(5, 472.5, 489.5, 27.3, 318.3, dict(range=[0, 1]), dict(range=[26, 0]))
add_strip(5, [1]*26, tgp_groups)
tick = dict(family=FONT, size=8.7, color="#333")
add_axes(6, 490.7, 769.3, 27.3, 318.3,
         dict(visible=True, side="bottom", tickangle=-90, tickfont=tick, ticks="outside", ticklen=2, tickwidth=.6, tickcolor="#555",
              showline=False, type="category", tickmode="array", tickvals=tgp_labels),
         dict(visible=True, side="right", autorange="reversed", tickfont=tick, ticks="outside", ticklen=2, tickwidth=.6, tickcolor="#555",
              showline=False, type="category", tickmode="array", tickvals=tgp_labels))
fig.add_trace(go.Heatmap(z=tgp_matrix, x=tgp_labels, y=tgp_labels, zmin=-.9, zmax=4.6, colorscale=ROCKET, xaxis="x6", yaxis="y6", hoverinfo="skip",
    colorbar=dict(orientation="h", x=406/W, xanchor="left", y=1-326/H, yanchor="top", thickness=7.6, len=65.7, lenmode="pixels",
                  xpad=0, ypad=0, tickvals=[0,1,2,3,4], ticks="inside", ticklen=2, tickcolor="#333",
                  tickfont=dict(family=FONT, size=7, color="#333"), outlinecolor="#999", outlinewidth=.6)))

# ---------- panel c ----------
frame = dict(visible=True, showline=True, linecolor="#111111", linewidth=1.4, mirror=True)
ytick = dict(tickmode="array", tickvals=[0,.25,.5,.75,1], ticktext=["0","","0.5","","1"], ticks="outside", ticklen=4, tickwidth=1,
             tickcolor="#111", tickfont=dict(family=FONT, size=10, color="#222"), range=[0,1])
add_axes(7, 46, 772, 394, 497, dict(frame, range=[-.5, 169.5], showticklabels=False, ticks=""), dict(frame, **ytick))
idx = list(range(170))
add_steps(7, idx, [[1]*170, top_afr, top_sas, top_eas, top_eur], [C_AMR, C_AFR, C_SAS, C_EAS, C_EUR])
for h in marked_haplotypes:
    shapes.append(dict(type="rect", xref="x7", yref="y7", x0=h-.55, x1=h+.55, y0=0, y1=1, line=dict(color="#222", width=1),
                       fillcolor="rgba(0,0,0,0)"))

# ---------- panel d ----------
xd = dict(frame, range=[0, 64.45], showticklabels=False, ticks="")
add_axes(8, 46, 755, 527, 584, xd, dict(frame, **ytick))
add_track(8, (t1_block_start, t1_block_end, t1_block_color), t1_pos, t1_w, t1_eur, t1_eas, t1_sas, t1_afr)
add_axes(9, 46, 755, 605, 662, xd, dict(frame, **ytick))
add_track(9, (t2_block_start, t2_block_end, [C_AMR]*2), t2_pos, t2_w, t2_eur, t2_eas, t2_sas, t2_afr)
for n in (7, 8, 9):
    frame_box(n)

# ---------- text ----------
text(7, 14, "<b>a</b>", size=16, color="#111")
text(26.7, 14.5, "Simons Genome Diversity Project (<b>SGDP</b>)", size=10.7)
text(403, 14, "<b>b</b>", size=16, color="#111")
text(421.5, 14.5, "1000 Genomes Project (<b>TGP</b>)", size=10.7)
text(7, 385, "<b>c</b>", size=16, color="#111")
text(48, 385, "Peruvian (<b>PEL</b> in <b>TGP</b>) population haplotypes sorted by GNN", size=10.3)
text(7, 525, "<b>d</b>", size=16, color="#111")
text(40.5, 351, "GNN proportion", size=8.9, anchor="center")
text(439, 351, "GNN proportion", size=8.9, anchor="center")
text(232, 326.5, "142 population groups", size=9.3, anchor="center")
text(12, 445, "GNN fraction", size=11.6, anchor="center", angle=-90)
text(12, 595, "GNN fraction", size=11.6, anchor="center", angle=-90)
text(48, 507, "Sample haplotypes \u2192", size=10, color="#111")
text(256, 507.8, "HG01933 haplotype", size=8.8, color="#111")
text(628.7, 507.8, "HG01933 haplotype", size=8.8, color="#111")
circle(343, 507.8, 5.5, "1")
circle(715, 507.8, 5.5, "2")
path([(254, 508), (246, 508), (246, 501)], color="#111", width=1)
path([(243.5, 502), (246, 498.5), (248.5, 502)], fill="#111", color="#111", width=.5, close=True)
path([(723, 508), (732, 508), (732, 501)], color="#111", width=1)
path([(729.5, 502), (732, 498.5), (734.5, 502)], fill="#111", color="#111", width=.5, close=True)
text(48, 671, "Position, Chromosome  20 \u2192", size=10.3, color="#111")
grey = "#888888"
text(83, 594, "<i>Telomeric region</i>", size=9.2, color=grey, anchor="center")
text(362.5, 594, "<i>Centromeric region</i>", size=9.2, color=grey, anchor="center")
text(716, 594, "<i>Telomeric region</i>", size=9.2, color=grey, anchor="center")
circle(768, 556.7, 7.5, "1")
circle(768, 633, 7.5, "2")
text(772.5, 595, "HG01933<br>haplotype", size=10, color="#111", anchor="center", angle=90)

# legends
def rounded(x0, y0, x1, y1, r):
    return (f"M{(x0+r)/W:.5f},{1-y0/H:.5f} L{(x1-r)/W:.5f},{1-y0/H:.5f} Q{x1/W:.5f},{1-y0/H:.5f} {x1/W:.5f},{1-(y0+r)/H:.5f} "
            f"L{x1/W:.5f},{1-(y1-r)/H:.5f} Q{x1/W:.5f},{1-y1/H:.5f} {(x1-r)/W:.5f},{1-y1/H:.5f} "
            f"L{(x0+r)/W:.5f},{1-y1/H:.5f} Q{x0/W:.5f},{1-y1/H:.5f} {x0/W:.5f},{1-(y1-r)/H:.5f} "
            f"L{x0/W:.5f},{1-(y0+r)/H:.5f} Q{x0/W:.5f},{1-y0/H:.5f} {(x0+r)/W:.5f},{1-y0/H:.5f} Z")
box = "#B5B5B5"
path([(368, 334.5), (372.5, 326), (377, 334.5)], fill=box, color=box, width=.5, close=True)
shapes.append(dict(type="path", xref="paper", yref="paper", path=rounded(125, 335.3, 379.5, 367.3, 4), line=dict(color=box, width=1),
                   fillcolor="white"))
for sx, tx, y, c, s in [(132.3,142.5,344,C_AFR,"Africa"),(186,196.7,344,C_EAS,"East Asia"),(251,261.7,344,C_EUR,"West Eurasia"),
                        (325.7,336,344,C_OCE,"Oceania"),(132.3,142.5,358,C_AMR,"America"),(186,196.7,358,C_SAS,"South Asia"),
                        (251,261.7,358,C_CAS,"Central Asia, Siberia")]:
    rect(sx, y-3.7, sx+7.4, y+3.7, c)
    text(tx, y, s, size=9.2)
path([(764.5, 358), (769, 348), (773.5, 358)], fill=box, color=box, width=.5, close=True)
path([(764.5, 373.5), (769, 380), (773.5, 373.5)], fill=box, color=box, width=.5, close=True)
shapes.append(dict(type="path", xref="paper", yref="paper", path=rounded(567.7, 357.7, 776, 374, 4), line=dict(color=box, width=1),
                   fillcolor="white"))
for sx, tx, c, s in [(576,586.5,C_AFR,"AFR"),(616.5,627,C_AMR,"AMR"),(657.5,667.5,C_EAS,"EAS"),(698,708.5,C_EUR,"EUR"),(738.5,749,C_SAS,"SAS")]:
    rect(sx, 362, sx+8, 370, c)
    text(tx, 366, s, size=10)

fig.update_layout(width=W, height=H, margin=dict(l=0, r=0, t=0, b=0), paper_bgcolor="white", plot_bgcolor="white",
                  barmode="overlay", showlegend=False, annotations=anns, shapes=shapes,
                  font=dict(family=FONT), **layout_axes)
fig.write_html("out.html", config=dict(displayModeBar=False),
               post_script="document.body.style.margin='0';")
